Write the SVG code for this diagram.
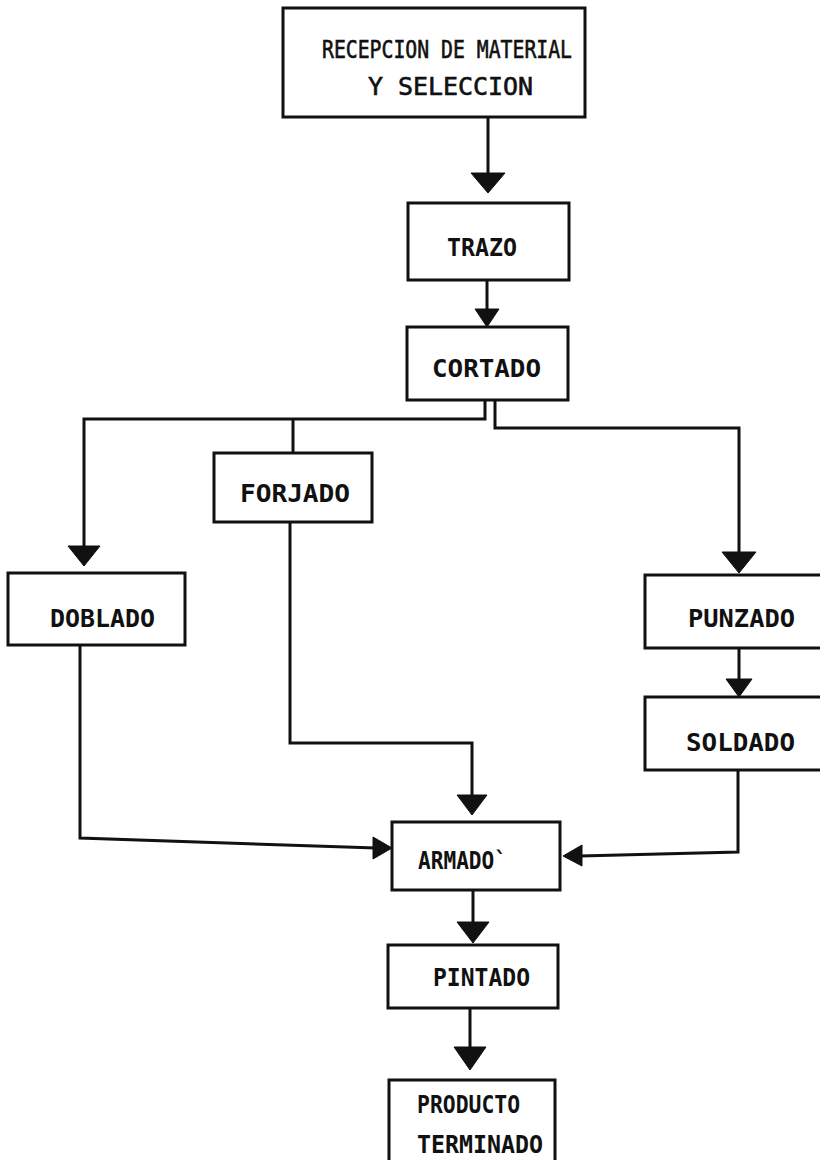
<svg xmlns="http://www.w3.org/2000/svg" width="820" height="1160" viewBox="0 0 820 1160">
<style>
.box{fill:#fff;stroke:#111;stroke-width:3}
.t{font-family:"DejaVu Sans Mono","Liberation Mono",monospace;font-weight:bold;fill:#111;font-size:24px}
.n{font-weight:normal;stroke:#111;stroke-width:0.6}
.line{fill:none;stroke:#111;stroke-width:3;stroke-linejoin:miter}
.head{fill:#111;stroke:#111;stroke-width:1}
</style>
<rect width="820" height="1160" fill="#fff"/>
<g id="connectors">
<path class="line" d="M488,117 V176"/>
<polygon class="head" points="471,173 505,173 488,193"/>
<path class="line" d="M487,280 V312"/>
<polygon class="head" points="475,309 499,309 487,327"/>
<path class="line" d="M485,400 V419 H84 V548"/>
<polygon class="head" points="68,546 100,546 84,566"/>
<path class="line" d="M293,419 V453"/>
<path class="line" d="M495,400 V428 H739 V555"/>
<polygon class="head" points="722,552 756,552 739,573"/>
<path class="line" d="M739,648 V682"/>
<polygon class="head" points="726,679 752,679 739,697"/>
<path class="line" d="M290,522 V743 H472 V798"/>
<polygon class="head" points="457,795 487,795 472,815"/>
<path class="line" d="M80,645 V838 L376,848"/>
<polygon class="head" points="373,837 392,848 373,859"/>
<path class="line" d="M738,770 V852 L580,856"/>
<polygon class="head" points="582,845 563,856 582,866"/>
<path class="line" d="M473,890 V925"/>
<polygon class="head" points="457,922 489,922 473,943"/>
<path class="line" d="M470,1008 V1050"/>
<polygon class="head" points="454,1047 486,1047 470,1070"/>
</g>
<g id="recepcion">
<rect class="box" x="283" y="8" width="302" height="109"/>
<text class="t n" x="322" y="58" font-size="24" textLength="250" lengthAdjust="spacingAndGlyphs">RECEPCION DE MATERIAL</text>
<text class="t n" x="368" y="95" font-size="24" textLength="165" lengthAdjust="spacingAndGlyphs">Y SELECCION</text>
</g>
<g id="trazo">
<rect class="box" x="408" y="203" width="161" height="77"/>
<text class="t" x="447" y="256" textLength="70" lengthAdjust="spacingAndGlyphs">TRAZO</text>
</g>
<g id="cortado">
<rect class="box" x="407" y="327" width="161" height="73"/>
<text class="t" x="432" y="377" font-size="25" textLength="109" lengthAdjust="spacingAndGlyphs">CORTADO</text>
</g>
<g id="forjado">
<rect class="box" x="214" y="453" width="158" height="69"/>
<text class="t" x="240" y="502" textLength="110" lengthAdjust="spacingAndGlyphs">FORJADO</text>
</g>
<g id="doblado">
<rect class="box" x="8" y="573" width="177" height="72"/>
<text class="t" x="50" y="627" textLength="105" lengthAdjust="spacingAndGlyphs">DOBLADO</text>
</g>
<g id="punzado">
<rect class="box" x="645" y="575" width="180" height="73"/>
<text class="t" x="688" y="627" textLength="107" lengthAdjust="spacingAndGlyphs">PUNZADO</text>
</g>
<g id="soldado">
<rect class="box" x="645" y="697" width="180" height="73"/>
<text class="t" x="686" y="751" textLength="109" lengthAdjust="spacingAndGlyphs">SOLDADO</text>
</g>
<g id="armado">
<rect class="box" x="392" y="822" width="168" height="68"/>
<text class="t" x="418" y="869" textLength="89" lengthAdjust="spacingAndGlyphs">ARMADO`</text>
</g>
<g id="pintado">
<rect class="box" x="388" y="945" width="170" height="63"/>
<text class="t" x="433" y="986" textLength="97" lengthAdjust="spacingAndGlyphs">PINTADO</text>
</g>
<g id="producto">
<rect class="box" x="389" y="1080" width="166" height="85"/>
<text class="t" x="417" y="1113" textLength="103" lengthAdjust="spacingAndGlyphs">PRODUCTO</text>
<text class="t" x="417" y="1153" textLength="126" lengthAdjust="spacingAndGlyphs">TERMINADO</text>
</g>
</svg>
